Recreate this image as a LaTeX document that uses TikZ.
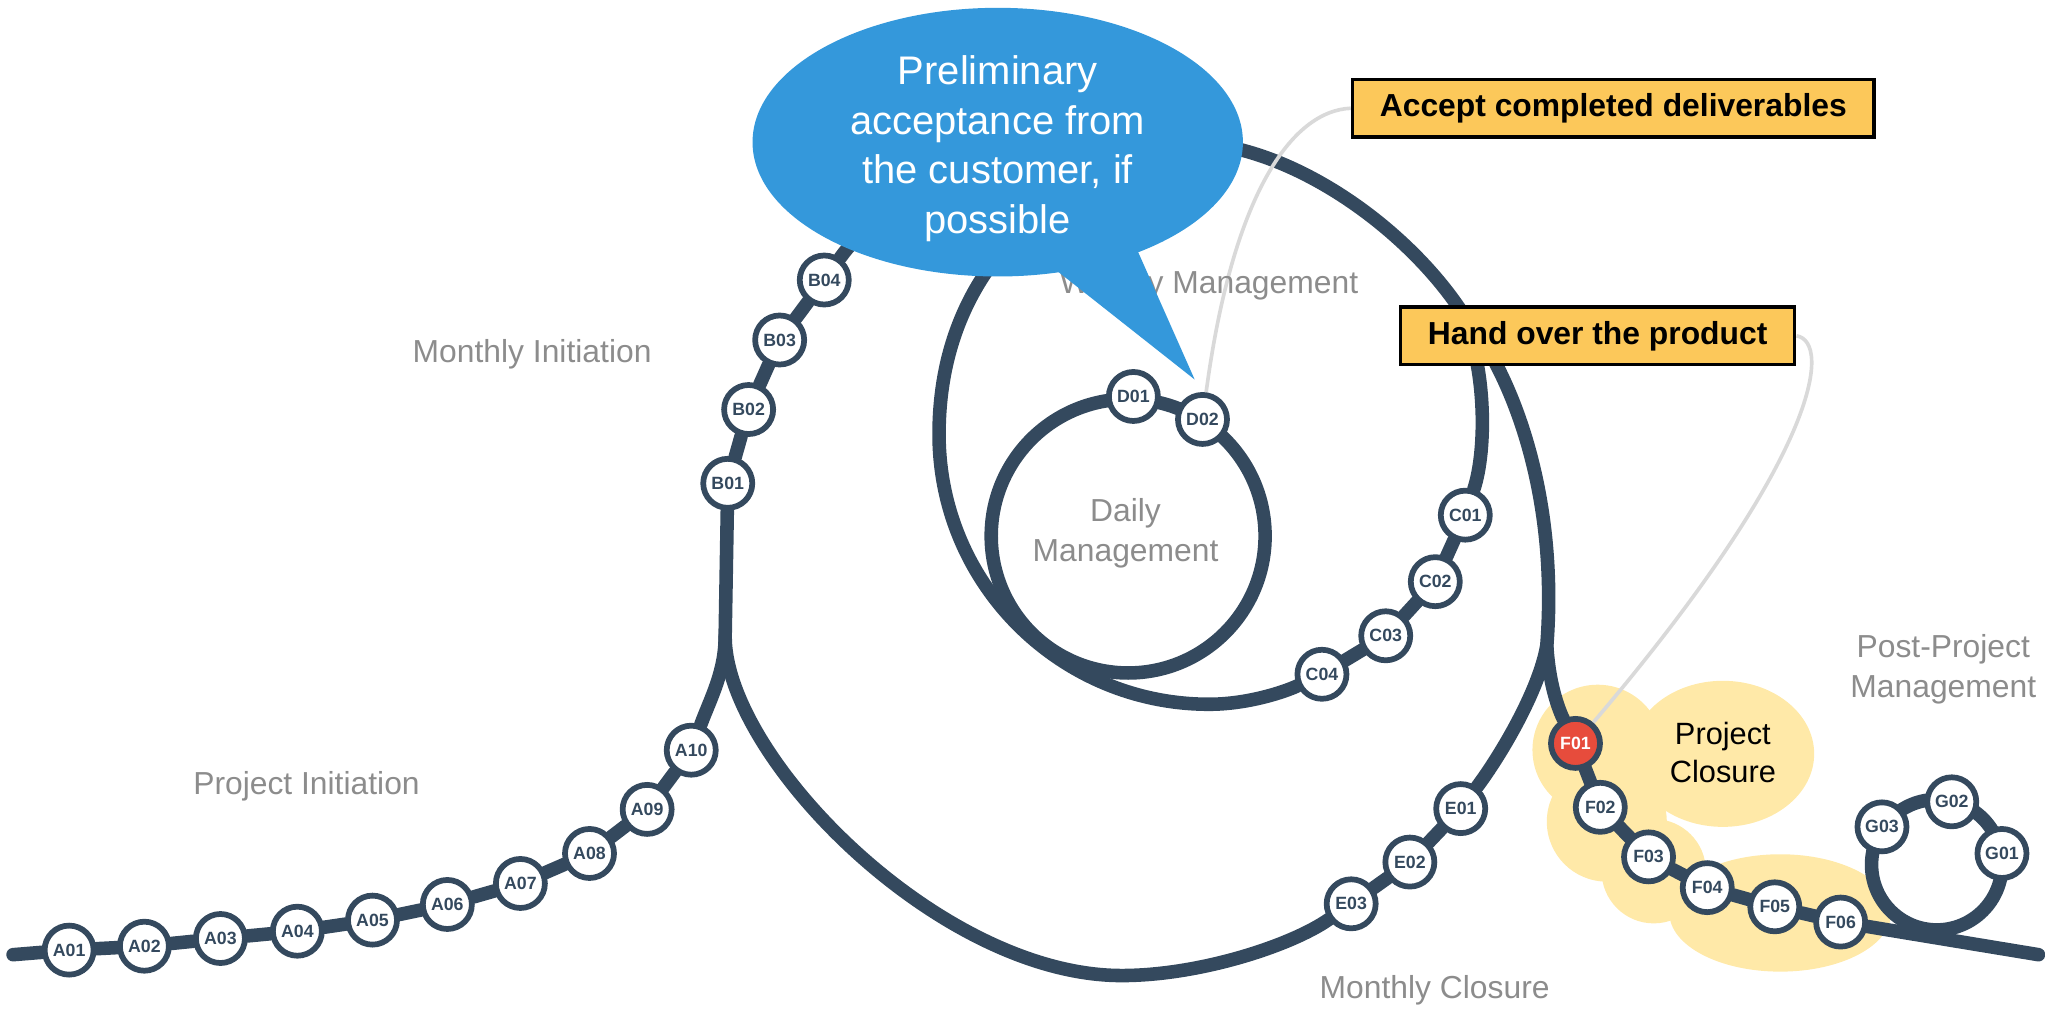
\documentclass[tikz,border=0pt]{standalone}
\usepackage{fontspec}
\setmainfont{Liberation Sans}
\usepackage{xcolor}
\definecolor{trackBlue}{HTML}{34495E}
\definecolor{closeRed}{HTML}{E74C3C}
\definecolor{bubbleBlue}{HTML}{3498DB}
\definecolor{noteYellow}{HTML}{FCC85A}
\definecolor{cloudYellow}{HTML}{FFE9A8}
\definecolor{phaseGray}{HTML}{8C8C8C}
\definecolor{leaderGray}{HTML}{D9D9D9}
\usepackage{tikz}
\usetikzlibrary{shapes.geometric}
\pgfdeclarelayer{cloud}
\pgfdeclarelayer{rails}
\pgfsetlayers{cloud,rails,main}

\begin{document}
\begin{tikzpicture}[x=0.5pt, y=-0.5pt,
    track/.style={draw=trackBlue, line width=5.2pt, line cap=round},
    station/.style={circle, draw=trackBlue, line width=2.2pt, fill=white,
      minimum size=18.8pt, inner sep=0pt, text=trackBlue,
      font=\bfseries\fontsize{6.8}{8}\selectfont},
    phase/.style={text=phaseGray, align=center, font=\fontsize{12.2}{15.3}\selectfont},
    note/.style={draw=black, line width=1.3pt, fill=noteYellow, inner xsep=10.5pt,
      minimum height=22.2pt, font=\bfseries\fontsize{12.2}{14}\selectfont},
    leader/.style={draw=leaderGray, line width=1.4pt}]
  \useasboundingbox (0,0) rectangle (1568,774);

  % Project closure cloud behind F01--F06
  \begin{pgfonlayer}{cloud}
    \fill[cloudYellow] (1225,575) circle[radius=50];
    \fill[cloudYellow] (1321,578) ellipse[x radius=70, y radius=56];
    \fill[cloudYellow] (1232,630) circle[radius=46];
    \fill[cloudYellow] (1268,668) circle[radius=40];
    \fill[cloudYellow] (1365,700) ellipse[x radius=85, y radius=45];
  \end{pgfonlayer}

  % Phase names
  \node[phase] (pinit) at (235,603) {Project Initiation};
  \node[phase] (minit) at (408,272) {Monthly Initiation};
  \node[phase] (wmgmt) at (927,219) {Weekly Management};
  \node[phase] (dmgmt) at (863,409) {Daily\\Management};
  \node[phase] (mclose) at (1100,759) {Monthly Closure};
  \node[phase] (postp) at (1490,513) {Post-Project\\Management};
  \node[align=center, font=\fontsize{11.8}{14.7}\selectfont] (pclose) at (1321,577) {Project\\Closure};

  % Stations: project initiation
  \node[station] (A01) at (53,728.5) {A01};
  \node[station] (A02) at (110.7,725.5) {A02};
  \node[station] (A03) at (169,719.6) {A03};
  \node[station] (A04) at (228,714) {A04};
  \node[station] (A05) at (285.6,705.5) {A05};
  \node[station] (A06) at (343,693.5) {A06};
  \node[station] (A07) at (399,677.4) {A07};
  \node[station] (A08) at (452,654.4) {A08};
  \node[station] (A09) at (496.2,620.6) {A09};
  \node[station] (A10) at (530,575.2) {A10};
  % monthly initiation
  \node[station] (B01) at (558,370.6) {B01};
  \node[station] (B02) at (574,314) {B02};
  \node[station] (B03) at (597.8,260.7) {B03};
  \node[station] (B04) at (632,214.7) {B04};
  % weekly
  \node[station] (C01) at (1123.5,395) {C01};
  \node[station] (C02) at (1100.5,446) {C02};
  \node[station] (C03) at (1062.5,487.5) {C03};
  \node[station] (C04) at (1013.6,517) {C04};
  % daily
  \node[station] (D01) at (869,304) {D01};
  \node[station] (D02) at (922,321.6) {D02};
  % monthly closure
  \node[station] (E01) at (1120,620) {E01};
  \node[station] (E02) at (1081,661) {E02};
  \node[station] (E03) at (1036,693) {E03};
  % project closure
  \node[station, fill=closeRed, text=white] (F01) at (1208,570) {F01};
  \node[station] (F02) at (1227,619) {F02};
  \node[station] (F03) at (1264,657) {F03};
  \node[station] (F04) at (1309,680.6) {F04};
  \node[station] (F05) at (1360.8,695.3) {F05};
  \node[station] (F06) at (1411.3,707) {F06};
  % post-project
  \node[station] (G01) at (1535,654.4) {G01};
  \node[station] (G02) at (1496.5,614.8) {G02};
  \node[station] (G03) at (1443,634) {G03};

  % Junctions and turning points
  \coordinate (start) at (10,732);
  \coordinate (finish) at (1563,732);
  \coordinate (J1) at (556,488);
  \coordinate (J2) at (1186,495);
  \coordinate (J3) at (1120,238);
  \coordinate (hidetop) at (925,110);
  \coordinate (mbot) at (860,748);
  \coordinate (wbot) at (927,540);
  \coordinate (wleft) at (720,333);
  \coordinate (wtop) at (815,150);
  \coordinate (dc) at (865,411);
  \coordinate (gc) at (1485,663);
  \coordinate (tip) at (916,291);
  \coordinate (tailL) at (800.7,200);
  \coordinate (tailR) at (869,185);

  % Notes
  \node[note] (accept) at (1237,83) {Accept completed deliverables};
  \node[note] (hand) at (1225,257.5) {Hand over the product};

  \begin{pgfonlayer}{rails}
    % main line
    \draw[track] (start) -- (A01) -- (A02) -- (A03) -- (A04) -- (A05) -- (A06)
      -- (A07) -- (A08) -- (A09) -- (A10);
    \draw[track] (A10) .. controls (545,535) and (556,515) .. (J1) -- (B01)
      -- (B02) -- (B03) -- (B04)
      .. controls (700,120) and (850,100) .. (hidetop)
      .. controls (1000,118) and (1080,178) .. (J3)
      .. controls (1160,285) and (1195,380) .. (J2)
      .. controls (1188,530) and (1198,550) .. (F01);
    \draw[track] (F01) -- (F02) -- (F03) -- (F04) -- (F05) -- (F06) -- (finish);
    % monthly closure back to J1
    \draw[track] (J2) .. controls (1180,530) and (1150,580) .. (E01) -- (E02) -- (E03)
      .. controls (990,725) and (920,748) .. (mbot)
      .. controls (720,748) and (556,580) .. (J1);
    % weekly loop
    \draw[track] (J3) .. controls (1140,280) and (1140,345) .. (C01) -- (C02) -- (C03)
      -- (C04) .. controls (986,530) and (957.5,540) .. (wbot)
      .. controls (812.7,540) and (720,447.3) .. (wleft)
      .. controls (720,259) and (750,195) .. (wtop);
    % daily and post-project loops
    \draw[track] (dc) circle[radius=105];
    \draw[track] (gc) circle[radius=50];
    % leaders
    \draw[leader] (accept.west) .. controls (990,85) and (945,150) .. (D02);
    \draw[leader] (hand.east) .. controls (1405,262) and (1395,350) .. (F01);
  \end{pgfonlayer}

  % Speech bubble
  \node[ellipse, fill=bubbleBlue, minimum width=188pt, minimum height=103pt,
    inner sep=0pt] (bubble) at (765,109) {};
  \fill[bubbleBlue] (tailL) -- (tip) -- (tailR) -- cycle;
  \node[text=white, align=center, font=\fontsize{15.3}{19}\selectfont]
    (bubbletext) at (765,114) {Preliminary\\acceptance from\\the customer, if\\possible};
\end{tikzpicture}
\end{document}
